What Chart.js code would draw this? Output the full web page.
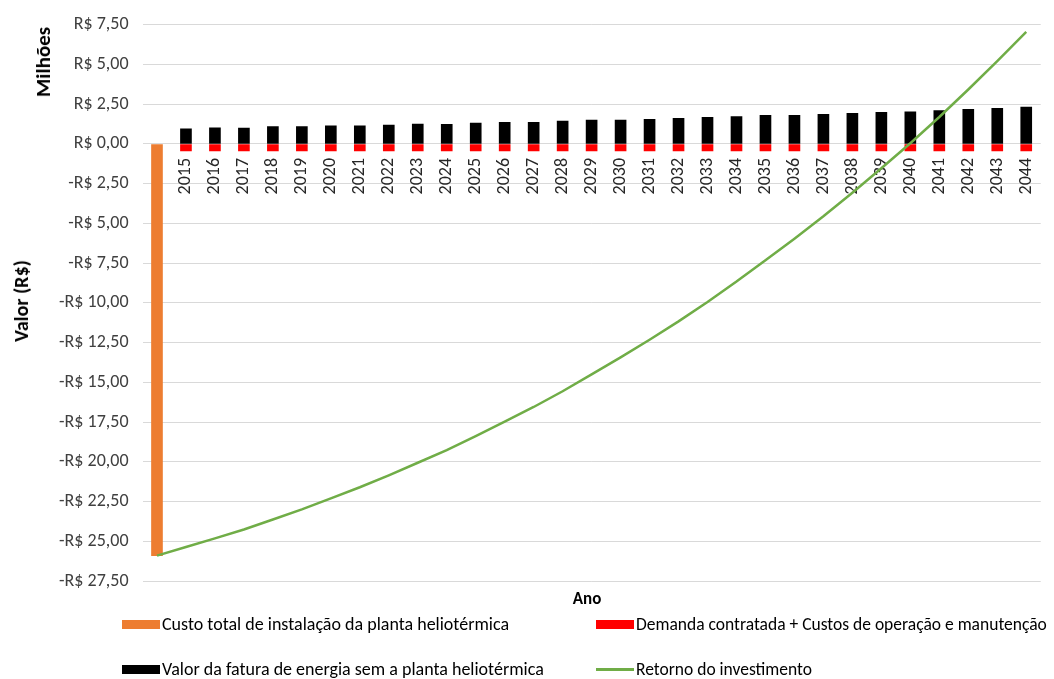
<!DOCTYPE html>
<html>
<head>
<meta charset="utf-8">
<script src="https://cdn.jsdelivr.net/npm/chart.js@4.4.1/dist/chart.umd.min.js"></script>
<style>
  html, body { margin: 0; padding: 0; background: #fff; }
  #wrap { position: relative; width: 1054px; height: 679px; overflow: hidden; font-family: Carlito, "Liberation Sans", Arial, sans-serif; color: #404040; }
  #c { position: absolute; left: 0; top: 0; }
  .t { position: absolute; white-space: nowrap; }
  .rot { transform: translate(-50%, -50%) rotate(-90deg); font-weight: bold; color: #000; }
  .leg { position: absolute; color: #000; white-space: nowrap; line-height: 20px; transform: translateY(-50%); }
  .sw { display: inline-block; width: 38px; height: 9px; vertical-align: middle; margin-right: 2px; position: relative; top: -1px; }
  .ln { display: inline-block; width: 38px; height: 3px; vertical-align: middle; margin-right: 2px; position: relative; top: -1px; }
</style>
</head>
<body>
<div id="wrap">
  <canvas id="c" width="1054" height="679"></canvas>
  <div class="t rot" style="left:43px; top:62px; font-size:21px;">Milhões</div>
  <div class="t rot" style="left:21px; top:301px; font-size:20px;">Valor (R$)</div>
  <div class="t" style="left:587px; top:598px; transform:translate(-50%,-50%); font-weight:bold; font-size:17px; color:#000;">Ano</div>
  <div class="leg" style="left:122px; top:624px; font-size:18px;"><span class="sw" style="background:#ED7D31"></span>Custo total de instalação da planta heliotérmica</div>
  <div class="leg" style="left:596px; top:624px; font-size:17.5px;"><span class="sw" style="background:#FF0000"></span>Demanda contratada + Custos de operação e manutenção</div>
  <div class="leg" style="left:122px; top:669px; font-size:18px;"><span class="sw" style="background:#000000"></span>Valor da fatura de energia sem a planta heliotérmica</div>
  <div class="leg" style="left:596px; top:669px; font-size:17.5px;"><span class="ln" style="background:#70AD47"></span>Retorno do investimento</div>
</div>
<script>
const years = ['', '2015','2016','2017','2018','2019','2020','2021','2022','2023','2024',
  '2025','2026','2027','2028','2029','2030','2031','2032','2033','2034',
  '2035','2036','2037','2038','2039','2040','2041','2042','2043','2044'];

const custoInstalacao = [-25.9, null, null, null, null, null, null, null, null, null, null,
  null, null, null, null, null, null, null, null, null, null,
  null, null, null, null, null, null, null, null, null, null];

const demandaCustos = [null, -0.44, -0.44, -0.44, -0.44, -0.44, -0.44, -0.44, -0.44, -0.44, -0.44,
  -0.44, -0.44, -0.44, -0.44, -0.44, -0.44, -0.44, -0.44, -0.44, -0.44,
  -0.44, -0.44, -0.44, -0.44, -0.44, -0.44, -0.44, -0.44, -0.44, -0.44];

const faturaEnergia = [null, 0.96, 1.01, 1.00, 1.09, 1.09, 1.15, 1.15, 1.19, 1.25, 1.24,
  1.32, 1.36, 1.36, 1.44, 1.51, 1.50, 1.55, 1.61, 1.67, 1.73,
  1.80, 1.80, 1.86, 1.93, 1.99, 2.03, 2.10, 2.18, 2.24, 2.32];

const retorno = [-25.90, -25.36, -24.82, -24.26, -23.63, -22.99, -22.30, -21.60, -20.85, -20.06, -19.26,
  -18.38, -17.47, -16.55, -15.56, -14.50, -13.43, -12.32, -11.16, -9.94, -8.66,
  -7.31, -5.96, -4.55, -3.07, -1.53, 0.05, 1.70, 3.43, 5.22, 7.05];

const yMin = -27.5, yMax = 7.5, yStep = 2.5;

function fmt(v) {
  const s = Math.abs(v).toFixed(2).replace('.', ',');
  return (v < -1e-9 ? '-' : '') + 'R$ ' + s;
}

const FONT = 'Carlito, "Liberation Sans", Arial, sans-serif';

new Chart(document.getElementById('c'), {
  data: {
    labels: years,
    datasets: [
      { type: 'line', label: 'Retorno do investimento', data: retorno, borderColor: '#70AD47', backgroundColor: '#70AD47',
        borderWidth: 2.5, pointRadius: 0, tension: 0, order: 0 },
      { type: 'bar', label: 'Custo total de instalação da planta heliotérmica', data: custoInstalacao,
        backgroundColor: '#ED7D31', barThickness: 11, grouped: false, order: 1 },
      { type: 'bar', label: 'Demanda contratada + Custos de operação e manutenção', data: demandaCustos,
        backgroundColor: '#FF0000', barThickness: 11, grouped: false, order: 1 },
      { type: 'bar', label: 'Valor da fatura de energia sem a planta heliotérmica', data: faturaEnergia,
        backgroundColor: '#000000', barThickness: 11, grouped: false, order: 1 }
    ]
  },
  options: {
    responsive: false,
    animation: false,
    layout: { padding: { top: 23, right: 10, bottom: 98, left: 0 } },
    plugins: { legend: { display: false }, tooltip: { enabled: false } },
    scales: {
      x: {
        type: 'category',
        offset: true,
        position: { y: 0 },
        grid: { display: false },
        border: { display: false },
        ticks: { minRotation: 90, maxRotation: 90, autoSkip: false, padding: 6,
          color: '#262626', font: { family: FONT, size: 18 } }
      },
      y: {
        min: yMin, max: yMax,
        afterFit: (s) => { s.width = 142.5; },
        grid: { color: '#D9D9D9', lineWidth: 1, drawTicks: false },
        border: { display: false },
        ticks: { stepSize: yStep, padding: 14, color: '#404040', font: { family: FONT, size: 18 },
          callback: (v) => fmt(v) }
      }
    }
  }
});
</script>
</body>
</html>
